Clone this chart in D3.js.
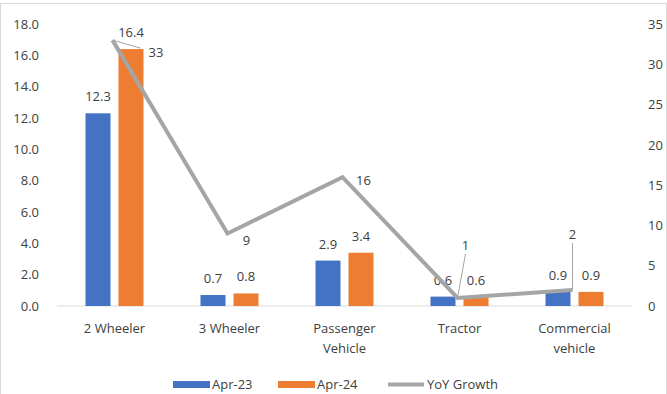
<!DOCTYPE html>
<html>
<head>
<meta charset="utf-8">
<script src="https://cdn.jsdelivr.net/npm/d3@7"></script>
<style>
  body { margin: 0; background: #fff; }
  text { font-family: "Open Sans", "Noto Sans", sans-serif; fill: #404040; }
</style>
</head>
<body>
<div id="chart"></div>
<script>
// data (units: lakh vehicles, growth in %)
const categories = ["2 Wheeler", "3 Wheeler", "Passenger Vehicle", "Tractor", "Commercial vehicle"];
const apr23 = [12.3, 0.7, 2.9, 0.6, 0.9];
const apr24 = [16.4, 0.8, 3.4, 0.6, 0.9];
const yoy = [33, 9, 16, 1, 2];
const leftTicks = [0, 2, 4, 6, 8, 10, 12, 14, 16, 18];
const rightTicks = [0, 5, 10, 15, 20, 25, 30, 35];

const width = 667;
const height = 394;
const margin = {top: 24, left: 57, right: 35, bottom: 88};

const svg = d3.select("#chart")
  .append("svg")
    .attr("width", width)
    .attr("height", height);

// chart border
svg.append("rect")
  .attr("x", 0.5).attr("y", 3.5)
  .attr("width", width - 1).attr("height", height)
  .attr("fill", "none")
  .attr("stroke", "#d9d9d9");

const x = d3.scaleBand()
  .domain(categories)
  .range([margin.left, width - margin.right]);

const y = d3.scaleLinear()
  .domain([0, 18])
  .range([height - margin.bottom, margin.top]);

const y2 = d3.scaleLinear()
  .domain([0, 35])
  .range([height - margin.bottom, margin.top]);

const barW = 25, gap = 8;

// left axis
const yAxis = svg.append("g")
  .attr("transform", `translate(${margin.left - 15},0)`)
  .call(d3.axisLeft(y).tickValues(leftTicks).tickFormat(d3.format(".1f")).tickSize(0));
yAxis.select(".domain").remove();
yAxis.selectAll("text").style("font-size", "13px").attr("fill", "#404040");

// right axis
const y2Axis = svg.append("g")
  .attr("transform", `translate(${width - margin.right + 13},0)`)
  .call(d3.axisRight(y2).tickValues(rightTicks).tickSize(0));
y2Axis.select(".domain").remove();
y2Axis.selectAll("text").style("font-size", "13px").attr("fill", "#404040");

// baseline
svg.append("line")
  .attr("x1", margin.left).attr("x2", width - margin.right)
  .attr("y1", y(0)).attr("y2", y(0))
  .attr("stroke", "#d9d9d9");

// category labels
svg.append("g").selectAll("text")
  .data(categories)
  .join("text")
  .attr("x", d => x(d) + x.bandwidth() / 2)
  .attr("y", y(0) + 27)
  .attr("text-anchor", "middle")
  .style("font-size", "13px")
  .each(function(d) {
    const words = d.split(" ");
    const lines = d === "2 Wheeler" || d === "3 Wheeler" || d === "Tractor" ? [d] : words;
    d3.select(this).selectAll("tspan")
      .data(lines)
      .join("tspan")
      .attr("x", x(d) + x.bandwidth() / 2)
      .attr("dy", (l, i) => i === 0 ? 0 : 20)
      .text(l => l);
  });

const series = [
  {name: "Apr-23", values: apr23, color: "#4472C4", off: -(barW + gap) / 2},
  {name: "Apr-24", values: apr24, color: "#ED7D31", off: (barW + gap) / 2}
];

series.forEach(s => {
  const g = svg.append("g");
  g.selectAll("rect")
    .data(s.values)
    .join("rect")
    .attr("x", (d, i) => x(categories[i]) + x.bandwidth() / 2 + s.off - barW / 2)
    .attr("y", d => y(d))
    .attr("width", barW)
    .attr("height", d => y(0) - y(d))
    .attr("fill", s.color);
  g.selectAll("text")
    .data(s.values)
    .join("text")
    .attr("x", (d, i) => x(categories[i]) + x.bandwidth() / 2 + s.off)
    .attr("y", d => y(d) - 12)
    .attr("text-anchor", "middle")
    .style("font-size", "13px")
    .text(d => d.toFixed(1));
});

// YoY growth line
const line = d3.line()
  .x((d, i) => x(categories[i]) + x.bandwidth() / 2 - 2)
  .y(d => y2(d));

svg.append("path")
  .datum(yoy)
  .attr("d", line)
  .attr("fill", "none")
  .attr("stroke", "#A5A5A5")
  .attr("stroke-width", 4);

// line labels: offsets from the point, and whether a leader line is drawn
const lblOff = [[36, 12, true], [19, 7, false], [21, 3, false], [8, -52, true], [0, -55, true]];
const lg = svg.append("g");
yoy.forEach((d, i) => {
  const px = x(categories[i]) + x.bandwidth() / 2 - 2;
  const py = y2(d);
  const [dx, dy, leader] = lblOff[i];
  if (leader) {
    lg.append("line")
      .attr("x1", px).attr("y1", py)
      .attr("x2", px + dx - (i === 0 ? 8 : 0)).attr("y2", py + dy + (i === 0 ? -4 : 8))
      .attr("stroke", "#A5A5A5").attr("stroke-width", 1);
  }
  lg.append("text")
    .attr("x", px + dx)
    .attr("y", py + dy)
    .attr("text-anchor", i === 0 ? "start" : "middle")
    .attr("dy", "0.35em")
    .style("font-size", "13px")
    .text(d);
});

// legend
const legend = svg.append("g").attr("transform", `translate(0, ${height - 9})`);
const items = [
  {name: "Apr-23", color: "#4472C4", x: 173, type: "rect"},
  {name: "Apr-24", color: "#ED7D31", x: 278, type: "rect"},
  {name: "YoY Growth", color: "#A5A5A5", x: 388, type: "line"}
];
items.forEach(it => {
  if (it.type === "rect") {
    legend.append("rect").attr("x", it.x).attr("y", -4).attr("width", 37).attr("height", 7).attr("fill", it.color);
  } else {
    legend.append("line").attr("x1", it.x).attr("x2", it.x + 36).attr("y1", -0.5).attr("y2", -0.5)
      .attr("stroke", it.color).attr("stroke-width", 4);
  }
  legend.append("text")
    .attr("x", it.x + 39)
    .attr("y", 4)
    .style("font-size", "13px")
    .text(it.name);
});
</script>
</body>
</html>
